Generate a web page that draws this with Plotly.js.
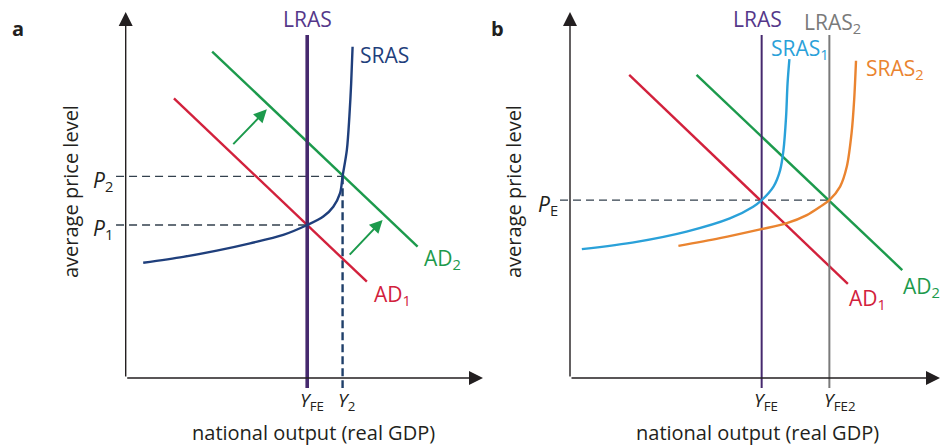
<!DOCTYPE html>
<html><head><meta charset="utf-8">
<script src="https://cdn.plot.ly/plotly-3.0.1.min.js"></script>
<style>html,body{margin:0;padding:0;background:#fff}#chart{width:941px;height:445px}</style>
</head><body><div id="chart"></div>
<script>
// ---------- Panel a data (axis units 0..10) ----------
const lrasA = 5.08;          // full-employment output Y_FE
const y2A = 6.07;            // new output Y2
const p1A = 4.18;            // price level P1
const p2A = 5.51;            // price level P2
const srasA_x = [0.49, 1.61, 2.55, 3.48, 4.41, 5.08, 5.53, 5.81, 6.00, 6.07, 6.19, 6.26, 6.31, 6.35];
const srasA_y = [3.15, 3.31, 3.48, 3.68, 3.91, 4.18, 4.41, 4.68, 5.05, 5.51, 6.23, 7.14, 8.05, 9.05];
const ad1A_x = [1.35, 6.75];
const ad1A_y = [7.64, 2.63];
const ad2A_x = [2.42, 8.17];
const ad2A_y = [8.92, 3.59];
const shiftA_from_x = [2.97, 6.23];
const shiftA_from_y = [6.35, 3.33];
const shiftA_to_x = [3.95, 7.19];
const shiftA_to_y = [7.34, 4.32];
const lrasTop = 9.37;

// ---------- Panel b data ----------
const lrasB = 5.18;          // Y_FE
const lras2B = 7.01;         // Y_FE2
const pEB = 4.86;            // P_E
const sras1B_x = [0.32, 1.80, 3.15, 4.32, 4.95, 5.18, 5.50, 5.68, 5.77, 5.84, 5.88, 5.93];
const sras1B_y = [3.52, 3.72, 4.00, 4.36, 4.68, 4.86, 5.23, 5.68, 6.23, 7.14, 8.05, 8.71];
const sras2B_x = [2.93, 4.05, 5.14, 5.86, 6.40, 6.76, 7.01, 7.30, 7.48, 7.61, 7.68, 7.73];
const sras2B_y = [3.61, 3.82, 4.06, 4.23, 4.45, 4.68, 4.86, 5.23, 5.77, 6.69, 7.60, 8.67];
const ad1B_x = [1.60, 7.51];
const ad1B_y = [8.28, 2.57];
const ad2B_x = [3.42, 8.98];
const ad2B_y = [8.28, 2.95];

// ---------- colours ----------
const C = {
  ink: '#231f20', purple: '#46296e', purpleTxt: '#55378a', navy: '#1f3f7c',
  red: '#d2213c', green: '#1c9a4c', sky: '#2aa1d9', orange: '#ea8430',
  gray: '#7a7a7a', dash: '#33404d', dashBlue: '#1f3f6a'
};
const stub = -0.27;   // tick overhang below/left of axes

function line(xa, ya, x, y, color, width, dash, shape) {
  return {type: 'scatter', mode: 'lines', x: x, y: y, xaxis: xa, yaxis: ya,
    line: {color: color, width: width, dash: dash || 'solid', shape: shape || 'linear', smoothing: 0.9},
    hoverinfo: 'skip', showlegend: false};
}

const traces = [
  // panel a
  line('x', 'y', [stub, lrasA], [p1A, p1A], C.dash, 1.4, '8px,5px'),
  line('x', 'y', [stub, y2A], [p2A, p2A], C.dash, 1.4, '8px,5px'),
  line('x', 'y', [y2A, y2A], [p2A, stub], C.dashBlue, 2.4, '8px,4px'),
  line('x', 'y', ad1A_x, ad1A_y, C.red, 2.4),
  line('x', 'y', ad2A_x, ad2A_y, C.green, 2.4),
  line('x', 'y', [lrasA, lrasA], [stub, lrasTop], C.purple, 3.6),
  line('x', 'y', srasA_x, srasA_y, C.navy, 2.4, 'solid', 'spline'),
  // panel b
  line('x2', 'y2', [stub, lras2B], [pEB, pEB], C.dash, 1.4, '8px,5px'),
  line('x2', 'y2', ad1B_x, ad1B_y, C.red, 2.4),
  line('x2', 'y2', ad2B_x, ad2B_y, C.green, 2.4),
  line('x2', 'y2', [lrasB, lrasB], [stub, lrasTop], C.purple, 2),
  line('x2', 'y2', [lras2B, lras2B], [stub, lrasTop], C.gray, 2),
  line('x2', 'y2', sras1B_x, sras1B_y, C.sky, 2.4, 'solid', 'spline'),
  line('x2', 'y2', sras2B_x, sras2B_y, C.orange, 2.4, 'solid', 'spline')
];

const FONT = 'Open Sans, Noto Sans, sans-serif';
function txt(xr, yr, x, y, text, color, size, xanchor, yanchor, extra) {
  return Object.assign({xref: xr, yref: yr, x: x, y: y, text: text, showarrow: false,
    xanchor: xanchor || 'center', yanchor: yanchor || 'middle',
    font: {family: FONT, size: size || 20, color: color || C.ink}}, extra || {});
}
function arrow(xr, yr, x0, y0, x1, y1, color, width, size) {
  return {xref: xr, yref: yr, axref: xr, ayref: yr, x: x1, y: y1, ax: x0, ay: y0, text: '',
    showarrow: true, arrowhead: 2, arrowsize: size, arrowwidth: width, arrowcolor: color,
    standoff: 0, startstandoff: 0};
}

const LS = 21; // label size
const YL = -0.62; // output-label level
const ann = [
  // axes
  arrow('x', 'y', 0, 0, 10, 0, C.ink, 1.4, 2),
  arrow('x', 'y', 0, 0, 0, 10, C.ink, 1.4, 2),
  arrow('x2', 'y2', 0, 0, 10, 0, C.ink, 1.4, 2),
  arrow('x2', 'y2', 0, 0, 0, 10, C.ink, 1.4, 2),
  // shift arrows panel a
  arrow('x', 'y', shiftA_from_x[0], shiftA_from_y[0], shiftA_to_x[0], shiftA_to_y[0], C.green, 2, 1.3),
  arrow('x', 'y', shiftA_from_x[1], shiftA_from_y[1], shiftA_to_x[1], shiftA_to_y[1], C.green, 2, 1.3),
  // panel letters
  txt('paper', 'paper', 18 / 941, 1 - 29 / 445, '<b>a</b>', C.ink, 20),
  txt('paper', 'paper', 497 / 941, 1 - 29 / 445, '<b>b</b>', C.ink, 20),
  // axis titles
  txt('paper', 'paper', 70 / 941, 1 - 192 / 445, 'average price level', C.ink, 20, 'center', 'middle', {textangle: -90}),
  txt('paper', 'paper', 313 / 941, 1 - 432 / 445, 'national output (real GDP)', C.ink, 20),
  txt('paper', 'paper', 513 / 941, 1 - 192 / 445, 'average price level', C.ink, 20, 'center', 'middle', {textangle: -90}),
  txt('paper', 'paper', 757 / 941, 1 - 432 / 445, 'national output (real GDP)', C.ink, 20),
  // panel a labels
  txt('x', 'y', lrasA, 9.8, 'LRAS', C.purpleTxt, LS),
  txt('x', 'y', 6.50, 8.83, 'SRAS', C.navy, LS, 'left'),
  txt('x', 'y', 6.90, 2.28, 'AD<sub>1</sub>', C.red, LS, 'left'),
  txt('x', 'y', 8.30, 3.24, 'AD<sub>2</sub>', C.green, LS, 'left'),
  txt('x', 'y', -0.31, p2A - 0.12, '<i>P</i><sub>2</sub>', C.ink, LS, 'right'),
  txt('x', 'y', -0.31, p1A - 0.12, '<i>P</i><sub>1</sub>', C.ink, LS, 'right'),
  txt('x', 'y', lrasA + 0.12, YL, '<i>Y</i><sub>FE</sub>', C.ink, 19, 'center', 'middle'),
  txt('x', 'y', y2A + 0.1, YL, '<i>Y</i><sub>2</sub>', C.ink, 19, 'center', 'middle'),
  // panel b labels
  txt('x2', 'y2', 5.06, 9.8, 'LRAS', C.purpleTxt, LS),
  txt('x2', 'y2', 6.28, 9.70, 'LRAS<sub>2</sub>', C.gray, LS, 'left'),
  txt('x2', 'y2', 5.37, 8.98, 'SRAS<sub>1</sub>', C.sky, LS, 'left'),
  txt('x2', 'y2', 7.95, 8.43, 'SRAS<sub>2</sub>', C.orange, LS, 'left'),
  txt('x2', 'y2', 7.49, 2.15, 'AD<sub>1</sub>', C.red, LS, 'left'),
  txt('x2', 'y2', 8.95, 2.48, 'AD<sub>2</sub>', C.green, LS, 'left'),
  txt('x2', 'y2', -0.26, pEB - 0.12, '<i>P</i><sub>E</sub>', C.ink, LS, 'right'),
  txt('x2', 'y2', lrasB + 0.12, YL, '<i>Y</i><sub>FE</sub>', C.ink, 19, 'center', 'middle'),
  txt('x2', 'y2', lras2B + 0.28, YL, '<i>Y</i><sub>FE2</sub>', C.ink, 19, 'center', 'middle')
];

// pixel-based frame for each panel
const W = 941, H = 445;
const yPxBottom = 425, yPxTop = 8, y0px = 378, ySc = 36.6;
function xAxis(pxL, pxR, x0px, sc, anchor) {
  return {domain: [pxL / W, pxR / W], range: [(pxL - x0px) / sc, (pxR - x0px) / sc],
    visible: false, fixedrange: true, anchor: anchor};
}
const yAxisBase = {domain: [1 - yPxBottom / H, 1 - yPxTop / H],
  range: [(y0px - yPxBottom) / ySc, (y0px - yPxTop) / ySc], visible: false, fixedrange: true};

const layout = {
  width: W, height: H, margin: {l: 0, r: 0, t: 0, b: 0},
  paper_bgcolor: '#ffffff', plot_bgcolor: 'rgba(0,0,0,0)',
  showlegend: false,
  xaxis: xAxis(100, 490, 125.7, 35.73, 'y'),
  yaxis: Object.assign({anchor: 'x'}, yAxisBase),
  xaxis2: xAxis(545, 941, 570, 37, 'y2'),
  yaxis2: Object.assign({anchor: 'x2'}, yAxisBase),
  annotations: ann,
  font: {family: FONT}
};

Plotly.newPlot('chart', traces, layout, {displayModeBar: false, staticPlot: true});
</script>
</body></html>
